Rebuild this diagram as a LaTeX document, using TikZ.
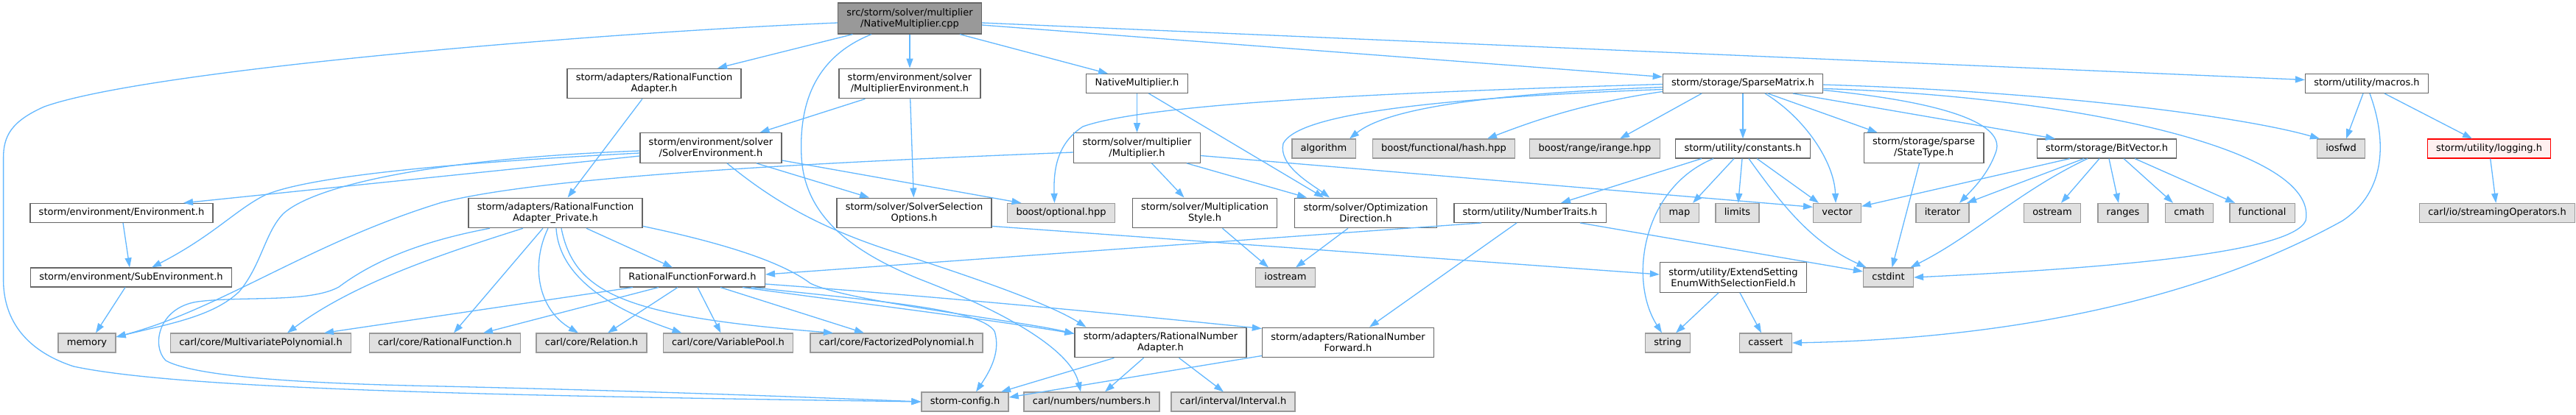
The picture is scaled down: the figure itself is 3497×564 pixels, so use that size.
\documentclass[tikz,border=0pt]{standalone}
\usepackage{fontspec}
\setmainfont{DejaVu Sans}
\usetikzlibrary{arrows.meta}
\definecolor{edgeblue}{HTML}{63B8FF}
\definecolor{boxgray}{HTML}{666666}
\definecolor{sysgray}{HTML}{999999}
\definecolor{sysfill}{HTML}{E0E0E0}
\definecolor{cutfill}{HTML}{FFF0F0}
\tikzset{
  hbox/.style={draw=boxgray,fill=white,line width=1.3pt,inner xsep=11.8pt,inner ysep=0pt,align=center,font=\fontsize{13}{15}\selectfont},
  hfile/.style={hbox,minimum height=25.8pt,text height=9.9pt,text depth=3.1pt},
  hfiletwo/.style={hbox,minimum height=40.5pt},
  sysh/.style={hfile,draw=sysgray,fill=sysfill},
  rooth/.style={hfiletwo,fill=sysgray,minimum height=42pt},
  cuth/.style={hfile,draw=red,fill=cutfill},
  incl/.style={draw=edgeblue,line width=1.3pt,-{Triangle[length=13pt,width=9pt]}}
}
\begin{document}
\begin{tikzpicture}[x=1pt,y=-1pt]
\path[use as bounding box,fill=white] (0,0) rectangle (3497,564);
\node[rooth] (cpp) at (1235,25) {src/storm/solver/multiplier\\/NativeMultiplier.cpp};
\node[hfiletwo] (rfa) at (888,113.5) {storm/adapters/RationalFunction\\Adapter.h};
\node[hfiletwo] (multenv) at (1235,113.5) {storm/environment/solver\\/MultiplierEnvironment.h};
\node[hfile] (nativeh) at (1543.5,113.5) {NativeMultiplier.h};
\node[hfile] (sparse) at (2366,113.5) {storm/storage/SparseMatrix.h};
\node[hfile] (macros) at (3213,113.5) {storm/utility/macros.h};
\node[hfiletwo] (solverenv) at (965,201) {storm/environment/solver\\/SolverEnvironment.h};
\node[hfiletwo] (multh) at (1543.5,201) {storm/solver/multiplier\\/Multiplier.h};
\node[sysh] (algorithm) at (1797,202) {algorithm};
\node[sysh] (hash) at (1960,202) {boost/functional/hash.hpp};
\node[sysh] (irange) at (2165,202) {boost/range/irange.hpp};
\node[hfile] (constants) at (2366,202) {storm/utility/constants.h};
\node[hfiletwo] (statetype) at (2611.6,201) {storm/storage/sparse\\/StateType.h};
\node[hfile] (bitvector) at (2860,202) {storm/storage/BitVector.h};
\node[sysh] (iosfwd) at (3178,202) {iosfwd};
\node[cuth] (logging) at (3379,202) {storm/utility/logging.h};
\node[hfile] (env) at (165,289.4) {storm/environment/Environment.h};
\node[hfiletwo] (rfapriv) at (754,289.4) {storm/adapters/RationalFunction\\Adapter\_Private.h};
\node[hfiletwo] (sso) at (1241,289.4) {storm/solver/SolverSelection\\Options.h};
\node[sysh] (optional) at (1440.5,289.4) {boost/optional.hpp};
\node[hfiletwo] (multstyle) at (1635.5,289.4) {storm/solver/Multiplication\\Style.h};
\node[hfiletwo] (optdir) at (1854,289.4) {storm/solver/Optimization\\Direction.h};
\node[hfile] (numtraits) at (2077,289.4) {storm/utility/NumberTraits.h};
\node[sysh] (map) at (2280,289.4) {map};
\node[sysh] (limits) at (2358.5,289.4) {limits};
\node[sysh] (vector) at (2494,289.4) {vector};
\node[sysh] (iterator) at (2637,289.4) {iterator};
\node[sysh] (ostream) at (2786,289.4) {ostream};
\node[sysh] (ranges) at (2882,289.4) {ranges};
\node[sysh] (cmath) at (2972,289.4) {cmath};
\node[sysh] (functional) at (3071,289.4) {functional};
\node[sysh] (streamops) at (3390,289.4) {carl/io/streamingOperators.h};
\node[hfile] (subenv) at (178,377) {storm/environment/SubEnvironment.h};
\node[hfile] (rff) at (940,377) {RationalFunctionForward.h};
\node[sysh] (iostream) at (1745,377) {iostream};
\node[hfiletwo] (extend) at (2353,377) {storm/utility/ExtendSetting\\EnumWithSelectionField.h};
\node[sysh] (cstdint) at (2563.5,377) {cstdint};
\node[sysh] (memory) at (118,466) {memory};
\node[sysh] (multipoly) at (354,466) {carl/core/MultivariatePolynomial.h};
\node[sysh] (ratfunc) at (604,466) {carl/core/RationalFunction.h};
\node[sysh] (relation) at (803,466) {carl/core/Relation.h};
\node[sysh] (varpool) at (988.5,466) {carl/core/VariablePool.h};
\node[sysh] (factpoly) at (1217,466) {carl/core/FactorizedPolynomial.h};
\node[hfiletwo] (rna) at (1575.5,465.5) {storm/adapters/RationalNumber\\Adapter.h};
\node[hfiletwo] (rnf) at (1830,465.5) {storm/adapters/RationalNumber\\Forward.h};
\node[sysh] (string) at (2264,466) {string};
\node[sysh] (cassert) at (2397,466) {cassert};
\node[sysh] (config) at (1310,546) {storm-config.h};
\node[sysh] (numbers) at (1482,546) {carl/numbers/numbers.h};
\node[sysh] (interval) at (1674,546) {carl/interval/Interval.h};
\draw[incl] ([yshift=-6pt]cpp.west) .. controls (800,45) and (200,95) .. (60,145) .. controls (15,165) and (4.6,185) .. (4.6,215) -- (4.6,380) .. controls (4.6,430) and (30,475) .. (100,498) .. controls (250,530) and (700,538) .. (config.west);
\draw[incl] ([xshift=-77.5pt]cpp.south) -- ([xshift=86pt]rfa.north);
\draw[incl] (cpp) -- (multenv);
\draw[incl] ([xshift=-52pt]cpp.south) .. controls (1100,80) and (1085,150) .. (1088,213) .. controls (1092,290) and (1150,340) .. (1250,380) .. controls (1380,430) and (1455,480) .. ([xshift=-15pt]numbers.north);
\draw[incl] ([xshift=68pt]cpp.south) -- ([xshift=-39.5pt]nativeh.north);
\draw[incl] ([yshift=-9pt]cpp.east) -- ([yshift=9pt]sparse.west);
\draw[incl] ([yshift=-6pt]cpp.east) -- ([yshift=5pt]macros.west);
\draw[incl] ([xshift=-60.5pt]multenv.south) -- ([xshift=66.5pt]solverenv.north);
\draw[incl] (multenv) -- (sso);
\draw[incl] ([xshift=-16pt]rfa.south) -- ([xshift=16.6pt]rfapriv.north);
\draw[incl] ([yshift=-11pt]solverenv.west) -- ([xshift=84pt]env.north);
\draw[incl] ([yshift=-7pt]solverenv.west) .. controls (600,222) and (420,240) .. (360,265) .. controls (320,285) and (290,320) .. ([xshift=28pt]subenv.north);
\draw[incl] ([yshift=-4pt]solverenv.west) .. controls (600,215) and (430,250) .. (385,290) .. controls (360,315) and (355,360) .. (325,396) .. controls (290,430) and (230,440) .. ([yshift=8pt]memory.east);
\draw[incl] ([yshift=-17pt]solverenv.east) -- ([xshift=-54pt]optional.north);
\draw[incl] ([xshift=62pt]solverenv.south) -- ([xshift=-61pt]sso.north);
\draw[incl] ([xshift=22pt]solverenv.south) .. controls (1040,265) and (1100,305) .. (1207,340) .. controls (1300,370) and (1420,410) .. ([xshift=-101pt]rna.north);
\draw[incl] ([yshift=-6pt]multh.west) .. controls (1000,225) and (720,245) .. (600,275) .. controls (420,330) and (300,420) .. ([yshift=8pt]memory.east);
\draw[incl] ([yshift=-10.5pt]multh.east) -- ([yshift=8pt]vector.west);
\draw[incl] ([xshift=67.5pt]multh.south) -- ([xshift=-80pt]optdir.north);
\draw[incl] ([xshift=20pt]multh.south) -- ([xshift=-28pt]multstyle.north);
\draw[incl] (nativeh) -- (multh);
\draw[incl] ([xshift=16pt]nativeh.south) -- ([xshift=-57pt]optdir.north);
\draw[incl] ([yshift=-1pt]sparse.west) .. controls (1900,125) and (1560,140) .. (1470,172) .. controls (1435,195) and (1430,230) .. ([xshift=-9pt]optional.north);
\draw[incl] ([yshift=-8pt]sparse.west) .. controls (1900,135) and (1760,160) .. (1742,195) .. controls (1735,225) and (1780,250) .. ([xshift=-49pt]optdir.north);
\draw[incl] ([yshift=-5pt]sparse.west) .. controls (2000,128) and (1880,150) .. ([xshift=35pt]algorithm.north);
\draw[incl] ([yshift=-11pt]sparse.west) .. controls (2150,140) and (2080,165) .. ([xshift=59pt]hash.north);
\draw[incl] ([xshift=-56pt]sparse.south) -- ([xshift=34pt]irange.north);
\draw[incl] (sparse) -- (constants);
\draw[incl] ([xshift=30pt]sparse.south) .. controls (2450,160) and (2490,220) .. ([xshift=-2pt]vector.north);
\draw[incl] ([xshift=34pt]sparse.south) -- ([xshift=-63pt]statetype.north);
\draw[incl] ([xshift=68pt]sparse.south) -- ([xshift=-70pt]bitvector.north);
\draw[incl] ([yshift=-9pt]sparse.east) .. controls (2650,140) and (2720,170) .. (2710,205) .. controls (2700,235) and (2680,255) .. ([xshift=23pt]iterator.north);
\draw[incl] ([yshift=-7pt]sparse.east) .. controls (2800,130) and (3150,200) .. (3130,300) .. controls (3110,345) and (2850,365) .. (cstdint.east);
\draw[incl] ([yshift=-1.6pt]sparse.east) .. controls (2800,125) and (3050,160) .. ([xshift=-29pt]iosfwd.north);
\draw[incl] ([xshift=-56pt]constants.south) -- ([xshift=42pt]numtraits.north);
\draw[incl] ([xshift=-40pt]constants.south) .. controls (2230,255) and (2210,380) .. ([xshift=-8pt]string.north);
\draw[incl] ([xshift=-12pt]constants.south) -- ([xshift=18pt]map.north);
\draw[incl] ([xshift=-1pt]constants.south) -- (limits);
\draw[incl] ([xshift=19pt]constants.south) -- ([xshift=-25pt]vector.north);
\draw[incl] ([xshift=8pt]constants.south) .. controls (2420,280) and (2460,330) .. ([xshift=-30pt]cstdint.north);
\draw[incl] ([xshift=-6pt]statetype.south) -- ([xshift=5pt]cstdint.north);
\draw[incl] ([xshift=-50pt]bitvector.south) -- ([yshift=9pt]vector.east);
\draw[incl] ([xshift=-31pt]bitvector.south) -- ([xshift=33pt]iterator.north);
\draw[incl] ([xshift=-26pt]bitvector.south) .. controls (2740,260) and (2680,320) .. ([xshift=30pt]cstdint.north);
\draw[incl] ([xshift=-10pt]bitvector.south) -- ([xshift=12pt]ostream.north);
\draw[incl] ([xshift=3pt]bitvector.south) -- ([xshift=-6pt]ranges.north);
\draw[incl] ([xshift=23pt]bitvector.south) -- ([xshift=-22pt]cmath.north);
\draw[incl] ([xshift=38pt]bitvector.south) -- ([xshift=-37pt]functional.north);
\draw[incl] ([xshift=-66pt]numtraits.south) -- ([yshift=4pt]rff.east);
\draw[incl] ([xshift=-18pt]numtraits.south) -- ([xshift=29pt]rnf.north);
\draw[incl] ([xshift=68pt]numtraits.south) -- ([yshift=8pt]cstdint.west);
\draw[incl] ([xshift=-24pt]optdir.south) -- ([xshift=14pt]iostream.north);
\draw[incl] ([xshift=24pt]multstyle.south) -- ([xshift=-23pt]iostream.north);
\draw[incl] ([yshift=-18pt]sso.east) -- ([yshift=4pt]extend.west);
\draw[incl] ([xshift=-20pt]extend.south) -- ([xshift=11pt]string.north);
\draw[incl] ([xshift=9pt]extend.south) -- ([xshift=-6pt]cassert.north);
\draw[incl] (env) -- (subenv);
\draw[incl] ([xshift=-8pt]subenv.south) -- ([xshift=12pt]memory.north);
\draw[incl] ([xshift=-89pt]rfapriv.south) .. controls (560,330) and (500,360) .. (460,390) .. controls (420,412) and (330,402) .. (268,410) .. controls (215,418) and (205,470) .. (225,490) .. controls (270,515) and (450,522) .. (600,525) .. controls (900,532) and (1100,540) .. (config.west);
\draw[incl] ([xshift=-44pt]rfapriv.south) .. controls (600,345) and (480,385) .. ([xshift=36pt]multipoly.north);
\draw[incl] ([xshift=-17pt]rfapriv.south) -- ([xshift=12pt]ratfunc.north);
\draw[incl] ([xshift=-10pt]rfapriv.south) .. controls (720,360) and (730,420) .. ([xshift=-18pt]relation.north);
\draw[incl] ([xshift=1pt]rfapriv.south) .. controls (760,390) and (860,430) .. ([xshift=-63pt]varpool.north);
\draw[incl] ([xshift=8pt]rfapriv.south) .. controls (780,400) and (850,430) .. ([xshift=-86pt]factpoly.north);
\draw[incl] ([xshift=42pt]rfapriv.south) -- ([xshift=-27pt]rff.north);
\draw[incl] ([yshift=-18pt]rfapriv.east) .. controls (980,330) and (1060,355) .. (1100,385) .. controls (1150,410) and (1380,435) .. ([yshift=12pt]rna.west);
\draw[incl] ([xshift=-81pt]rff.south) -- ([xshift=86pt]multipoly.north);
\draw[incl] ([xshift=-46pt]rff.south) -- ([xshift=52pt]ratfunc.north);
\draw[incl] ([xshift=-20pt]rff.south) -- ([xshift=22pt]relation.north);
\draw[incl] ([xshift=7pt]rff.south) -- ([xshift=-10pt]varpool.north);
\draw[incl] ([xshift=38pt]rff.south) -- ([xshift=-44pt]factpoly.north);
\draw[incl] ([xshift=68pt]rff.south) .. controls (1150,410) and (1350,435) .. ([yshift=12pt]rna.west);
\draw[incl] ([xshift=80pt]rff.south) .. controls (1200,410) and (1330,420) .. (1350,450) .. controls (1360,480) and (1340,510) .. ([xshift=15pt]config.north);
\draw[incl] ([yshift=-9pt]rff.east) .. controls (1300,405) and (1550,430) .. ([yshift=19pt]rnf.west);
\draw[incl] ([xshift=-63pt]rna.south) -- ([xshift=49pt]config.north);
\draw[incl] ([xshift=-23pt]rna.south) -- ([xshift=18pt]numbers.north);
\draw[incl] ([xshift=25pt]rna.south) -- ([xshift=-13pt]interval.north);
\draw[incl] ([yshift=-18pt]rnf.west) -- ([yshift=6pt]config.east);
\draw[incl] ([xshift=-5pt]macros.south) -- ([xshift=7pt]iosfwd.north);
\draw[incl] ([xshift=24pt]macros.south) -- ([xshift=-23pt]logging.north);
\draw[incl] ([xshift=4pt]macros.south) .. controls (3240,190) and (3240,260) .. (3180,300) .. controls (3000,400) and (2750,460) .. (cassert.east);
\draw[incl] (logging) -- (streamops);
\end{tikzpicture}
\end{document}
